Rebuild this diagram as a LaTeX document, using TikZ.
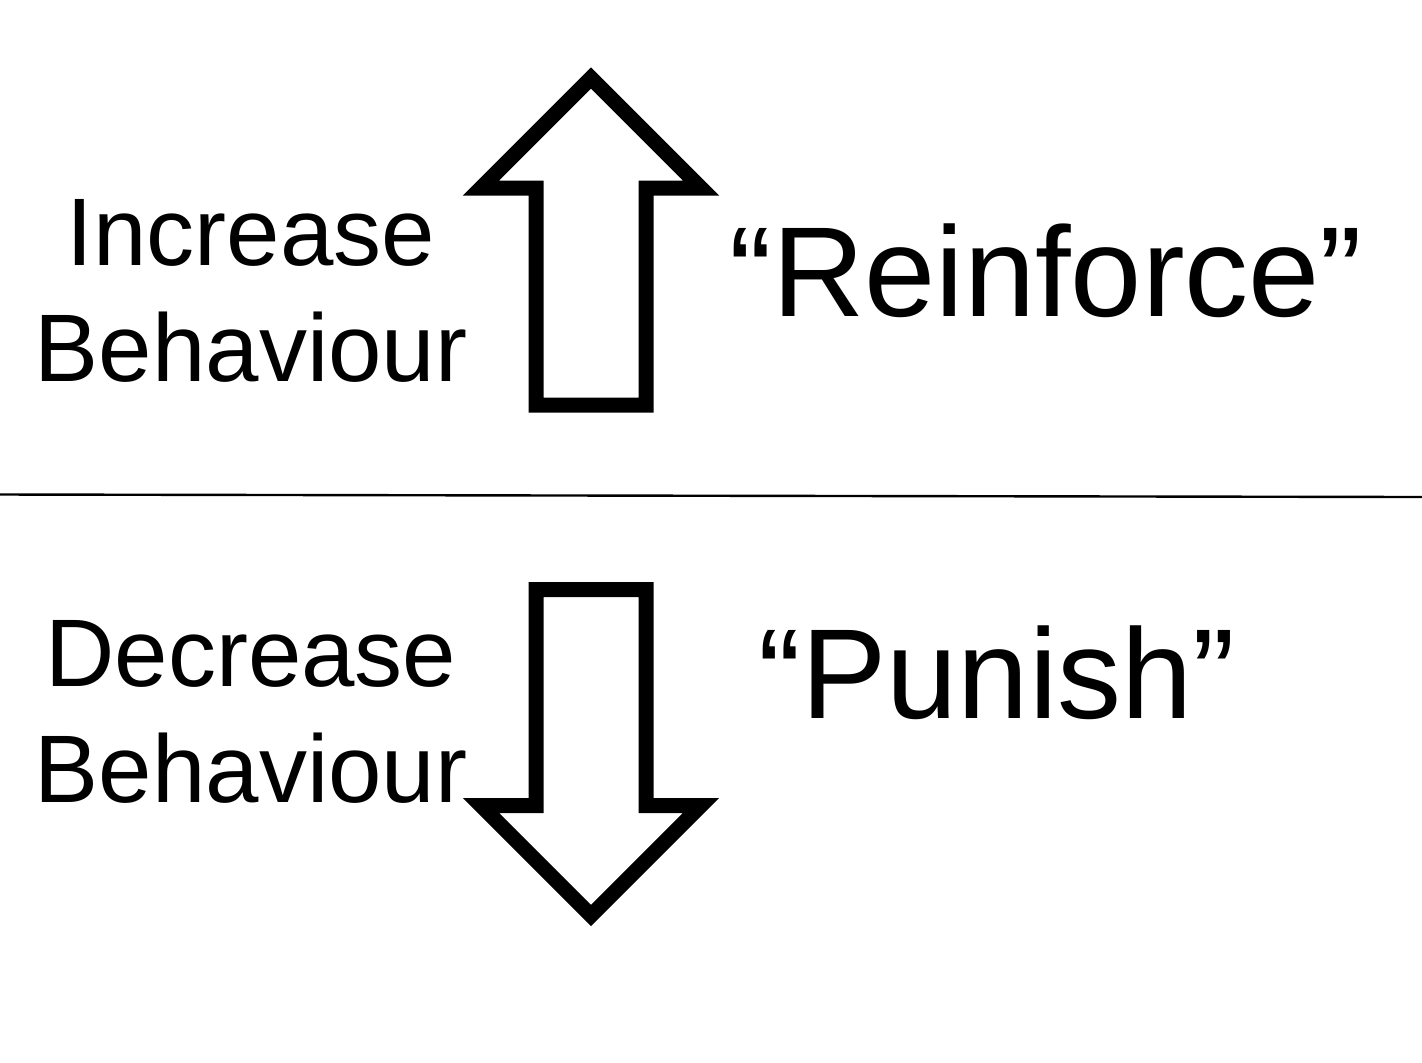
\documentclass[tikz,border=0pt]{standalone}
\usepackage{fontspec}
\setmainfont{Liberation Sans}
\begin{document}
\begin{tikzpicture}[x=0.5pt,y=-0.5pt,
  bigarrow/.style={draw=black,line width=7.5pt,line join=miter,fill=white},
  sidelabel/.style={font=\fontsize{48}{58}\selectfont,align=center,anchor=base,inner sep=0pt},
  verb/.style={font=\fontsize{64}{76}\selectfont,anchor=base,inner sep=0pt},
  divider/.style={draw=black,line width=1.2pt}]
\fill[white] (0,0) rectangle (1422,1062);
\useasboundingbox (0,0) rectangle (1422,1062);
% up arrow
\draw[bigarrow] (536,405) -- (536,188) -- (481,188) -- (591,78) -- (701,188) -- (646,188) -- (646,405) -- cycle;
% down arrow
\draw[bigarrow] (536,589.5) -- (536,805.5) -- (481,805.5) -- (591,915.5) -- (701,805.5) -- (646,805.5) -- (646,589.5) -- cycle;
% divider
\coordinate (dl) at (0,494.5);
\coordinate (dr) at (1422,497);
\draw[divider] (dl) -- (dr);
% labels
\node[sidelabel] (inc) at (251,381) {Increase\\Behaviour};
\node[sidelabel] (dec) at (251,802) {Decrease\\Behaviour};
\node[verb] (reinf) at (1046,316) {“Reinforce”};
\node[verb] (pun) at (997,718) {“Punish”};
\end{tikzpicture}
\end{document}
